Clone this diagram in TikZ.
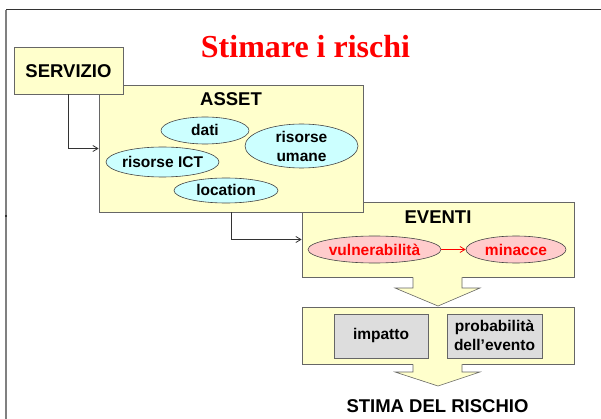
\documentclass[tikz,border=0pt]{standalone}
\usepackage{fontspec}
\setmainfont{Liberation Sans}
\newfontfamily\titlefont{Liberation Serif}
\usetikzlibrary{shapes.geometric,arrows.meta}
\definecolor{ybg}{HTML}{FFFFCC}
\definecolor{cbg}{HTML}{CCFFFF}
\definecolor{pbg}{HTML}{FFCCCC}
\definecolor{gbg}{HTML}{DDDDDD}
\definecolor{bord}{HTML}{666666}
\definecolor{ebord}{HTML}{444444}
\definecolor{lnk}{HTML}{333333}
\definecolor{tred}{HTML}{FF0000}
\tikzset{
  ybox/.style={draw=bord, fill=ybg, line width=0.8pt, rectangle, inner sep=0pt},
  gbox/.style={draw=bord, fill=gbg, line width=0.8pt, rectangle, inner sep=0pt},
  cell/.style={draw=ebord, fill=cbg, line width=0.6pt, ellipse, inner sep=0pt},
  pell/.style={draw=ebord, fill=pbg, line width=0.6pt, ellipse, inner sep=0pt},
  big/.style={font=\bfseries\fontsize{18.5}{22}\selectfont, inner sep=0pt},
  small/.style={font=\bfseries\fontsize{15.5}{19}\selectfont, inner sep=0pt, align=center},
  conn/.style={draw=lnk, line width=0.8pt, -{Straight Barb[length=5pt,width=6pt]}},
  rconn/.style={draw=tred, line width=0.8pt, -{Straight Barb[length=5pt,width=6pt]}},
  barrow/.style={fill=ybg, draw=bord, line width=0.6pt, line join=miter}
}
\begin{document}
\begin{tikzpicture}[x=1pt,y=-1pt]
\useasboundingbox (0,0) rectangle (601,419);
\fill[white] (0,0) rectangle (601,419);
% slide frame
\draw[draw=lnk, line width=1pt] (6,10) -- (601,10);
\draw[draw=gray, line width=1.5pt] (6,10) -- (6,419);
\draw[draw=lnk, line width=1.5pt] (6,215) -- (6,217);
% title
\node[anchor=base, inner sep=0pt, text=tred, font=\titlefont\bfseries\fontsize{32}{36}\selectfont] (title) at (305.5,58) {Stimare i rischi};
% boxes (drawing order: eventi, asset, servizio)
\node[ybox, minimum width=272pt, minimum height=75pt] (eventi) at (438,239.5) {};
\node[ybox, minimum width=264pt, minimum height=127pt] (asset) at (231,148.5) {};
\node[ybox, minimum width=109pt, minimum height=47pt] (servizio) at (68.5,70.5) {};
\node[big, anchor=base] (servizio-t) at (68.5,78) {SERVIZIO};
\node[big, anchor=base] (asset-t) at (231,106) {ASSET};
\node[big, anchor=base] (eventi-t) at (438,224) {EVENTI};
% asset ellipses
\node[cell, minimum width=88pt, minimum height=27pt] (dati) at (205,130.5) {};
\node[cell, minimum width=113pt, minimum height=44pt] (umane) at (301.5,146) {};
\node[cell, minimum width=113pt, minimum height=30pt] (ict) at (162.5,162) {};
\node[cell, minimum width=104pt, minimum height=25pt] (location) at (226,190.5) {};
\node[small, anchor=base] (dati-t) at (205,136) {dati};
\node[small] (umane-t) at (301.5,146.5) {risorse\\umane};
\node[small, anchor=base] (ict-t) at (162.5,168) {risorse ICT};
\node[small, anchor=base] (location-t) at (226,196) {location};
% eventi ellipses
\node[pell, minimum width=133pt, minimum height=27pt] (vuln) at (374.5,249.5) {};
\node[pell, minimum width=100pt, minimum height=27pt] (minacce) at (516,249.5) {};
\node[small, anchor=base, text=tred] (vuln-t) at (374.5,255) {vulnerabilità};
\node[small, anchor=base, text=tred] (minacce-t) at (516,255) {minacce};
\draw[rconn] (vuln.east) -- (minacce.west);
% connectors
\draw[conn] (servizio.south) |- (asset.west);
\draw[conn] (asset.south) |- (eventi.west);
% block arrow 1
\fill[ybg] (413,276) -- (413,288) -- (395,288) -- (438,306) -- (480,288) -- (462,288) -- (462,276) -- cycle;
\draw[barrow] (413,277.4) -- (413,288) -- (395,288) -- (438,306) -- (480,288) -- (462,288) -- (462,277.4);
% stima box
\node[ybox, minimum width=272pt, minimum height=57pt] (stima) at (438,335.5) {};
\node[gbox, minimum width=94pt, minimum height=44pt] (impatto) at (381,336) {};
\node[gbox, minimum width=95pt, minimum height=44pt] (prob) at (494.5,336) {};
\node[small, anchor=base] (impatto-t) at (381,339.5) {impatto};
\node[small] (prob-t) at (494.5,335) {probabilità\\dell’evento};
% block arrow 2
\fill[ybg] (413,363) -- (413,372) -- (395,372) -- (438,386) -- (480,372) -- (462,372) -- (462,363) -- cycle;
\draw[barrow] (413,364.4) -- (413,372) -- (395,372) -- (438,386) -- (480,372) -- (462,372) -- (462,364.4);
\node[big, anchor=base] (stima-t) at (437.5,412) {STIMA DEL RISCHIO};
\end{tikzpicture}
\end{document}
